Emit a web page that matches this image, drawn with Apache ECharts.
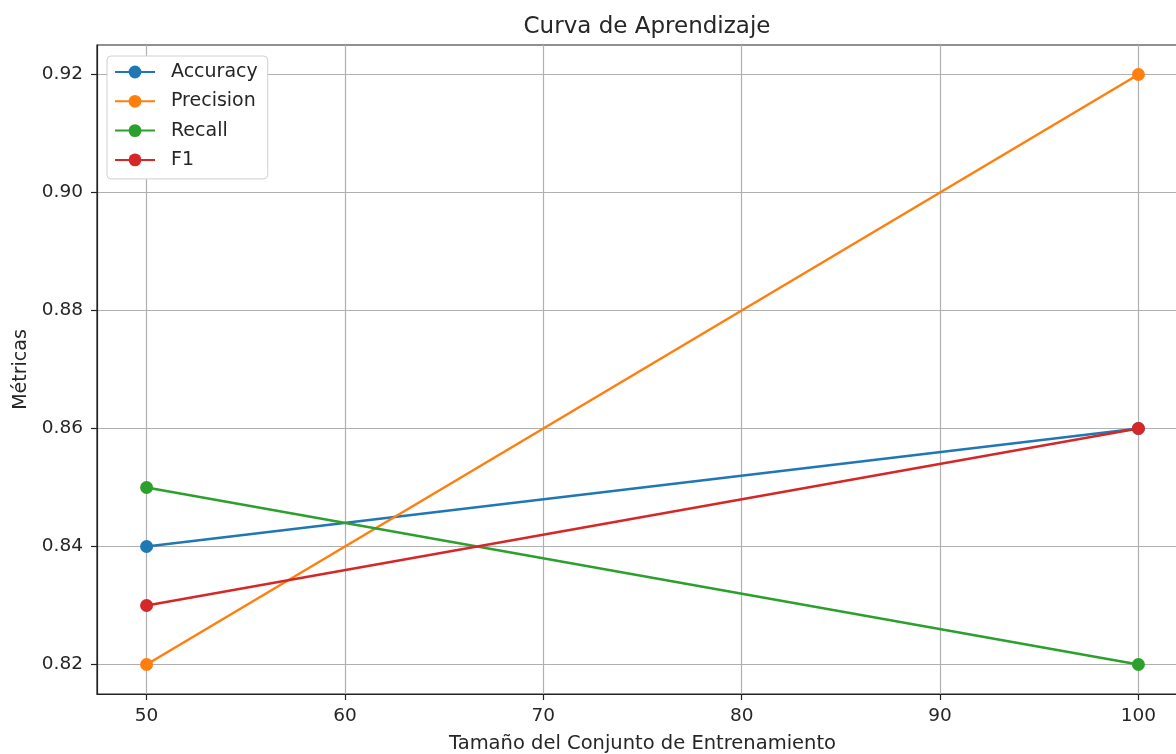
<html>
<head>
<meta charset="UTF-8" />
<title>Curva de Aprendizaje</title>
<script src="https://cdn.jsdelivr.net/npm/echarts@6/dist/echarts.min.js"></script>
<style type="text/css">
body{ margin:0; background:#fff; }
#main{ width:1176px; height:754px; overflow:hidden; }
</style>
</head>
<body>
<div id="main"></div>
<script type="text/javascript">
// datos de la curva
var sizes = [50, 100];
var accuracy = [0.84, 0.86];
var precision = [0.82, 0.92];
var recall = [0.85, 0.82];
var f1 = [0.83, 0.86];
var seriesNames = ['Accuracy', 'Precision', 'Recall', 'F1'];
var xTicks = [50, 60, 70, 80, 90, 100];
var yTicks = [0.82, 0.84, 0.86, 0.88, 0.90, 0.92];

var colors = ['#1f77b4', '#ff7f0e', '#2ca02c', '#d62728'];
var font = 'DejaVu Sans';
var ink = '#262626';

function pairs(ys) {
   return sizes.map(function (x, i) { return [x, ys[i]]; });
}

function lineSerie(name, ys, c) {
   return {
      name: name,
      type: 'line',
      data: pairs(ys),
      symbol: 'circle',
      symbolSize: 13,
      color: c,
      lineStyle: { width: 2.5, color: c },
      itemStyle: { color: c },
      emphasis: { disabled: true },
      animation: false
   };
}

var myChart = echarts.init(document.getElementById('main'));
myChart.setOption({
   textStyle: { fontFamily: font },
   title: {
      text: 'Curva de Aprendizaje',
      left: 642,
      textAlign: 'center',
      top: 11,
      textStyle: { fontFamily: font, fontSize: 23, fontWeight: 'normal', color: ink }
   },
   legend: {
      orient: 'vertical',
      left: 107,
      top: 56,
      data: seriesNames,
      itemWidth: 40,
      itemHeight: 16,
      itemGap: 9.3,
      padding: [6, 10, 9, 7],
      backgroundColor: '#fff',
      borderColor: '#d0d0d0',
      borderWidth: 1,
      borderRadius: 4,
      textStyle: { fontFamily: font, fontSize: 19, lineHeight: 20, color: ink, padding: [0, 0, 0, 11] }
   },
   grid: {
      left: 97,
      top: 45,
      width: 1091,
      height: 649,
      show: true,
      borderColor: '#222',
      borderWidth: 1.2,
      containLabel: false,
      outerBoundsMode: 'none'
   },
   xAxis: {
      type: 'value',
      min: 47.5,
      max: 102.5,
      name: 'Tamaño del Conjunto de Entrenamiento',
      nameLocation: 'middle',
      nameGap: 40,
      nameTextStyle: { fontFamily: font, fontSize: 19.5, color: ink },
      axisLine: { show: true, lineStyle: { color: '#222', width: 1.2 } },
      axisTick: { show: true, length: 6, customValues: xTicks, lineStyle: { color: '#222', width: 1.2 } },
      axisLabel: { customValues: xTicks, margin: 13, fontFamily: font, fontSize: 18.5, color: ink },
      splitLine: { show: true, lineStyle: { color: '#b0b0b0', width: 1.2 } }
   },
   yAxis: {
      type: 'value',
      min: 0.815,
      max: 0.925,
      name: 'Métricas',
      nameLocation: 'middle',
      nameGap: 65,
      nameRotate: 90,
      nameTextStyle: { fontFamily: font, fontSize: 19, color: ink },
      axisLine: { show: true, lineStyle: { color: '#222', width: 1.2 } },
      axisTick: { show: true, length: 6, customValues: yTicks, lineStyle: { color: '#222', width: 1.2 } },
      axisLabel: {
         customValues: yTicks,
         margin: 14,
         fontFamily: font,
         fontSize: 18.5,
         color: ink,
         formatter: function (v) { return v.toFixed(2); }
      },
      splitLine: { show: true, lineStyle: { color: '#b0b0b0', width: 1.2 } }
   },
   series: [
      lineSerie(seriesNames[0], accuracy, colors[0]),
      lineSerie(seriesNames[1], precision, colors[1]),
      lineSerie(seriesNames[2], recall, colors[2]),
      lineSerie(seriesNames[3], f1, colors[3])
   ]
});
</script>
</body>
</html>
